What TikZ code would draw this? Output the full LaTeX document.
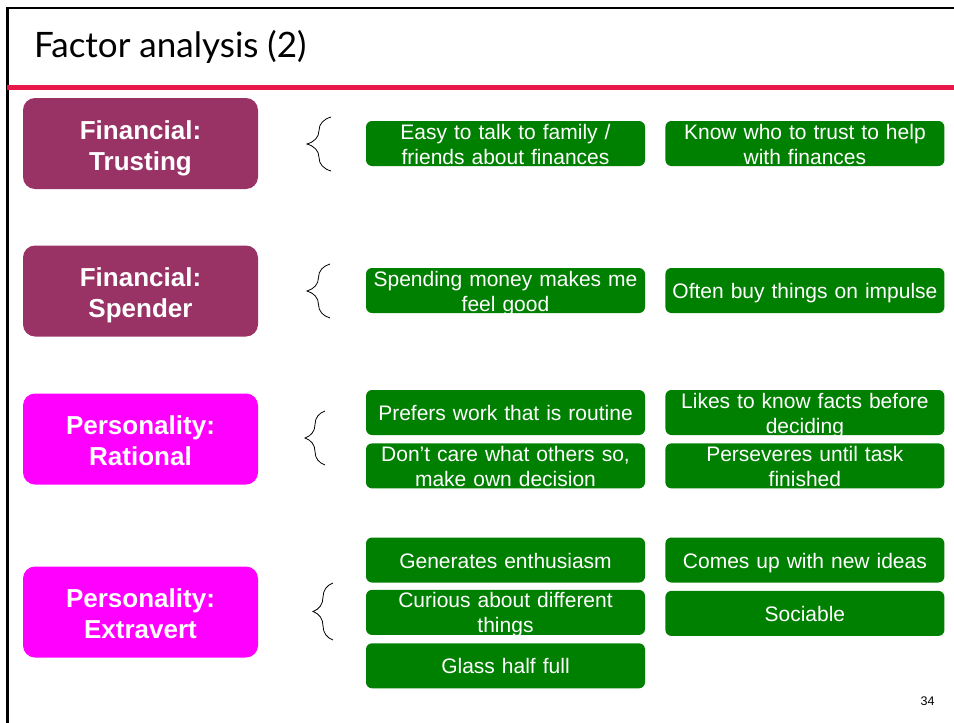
\documentclass[tikz,border=0pt]{standalone}
\usepackage{fontspec}
\setmainfont{Liberation Sans}
\newfontfamily\titlefont{Lato}
\usetikzlibrary{positioning}
\usetikzlibrary{decorations.pathreplacing}
\definecolor{slidered}{RGB}{232,25,74}
\definecolor{plum}{RGB}{153,51,102}
\definecolor{pink}{RGB}{255,0,255}
\definecolor{itemgreen}{RGB}{0,128,0}

\begin{document}
\begin{tikzpicture}[x=1pt,y=-1pt,
    factor/.style={rounded corners=12pt, text width=235pt, minimum height=91pt,
      inner sep=0pt, align=center, text=white,
      font=\fontsize{26}{31}\selectfont\bfseries,
      text height=22pt, text depth=31pt},
    item/.style={fill=itemgreen, rounded corners=6pt, text width=271pt,
      inner xsep=4pt, inner ysep=0pt, minimum height=45pt, align=center,
      text=white, font=\fontsize{21}{25}\selectfont,
      text height=16pt, text depth=0pt},
    twoline/.style={text depth=25pt},
    curly/.style={decorate, decoration={brace, amplitude=#1}, line width=0.8pt},
  ]
  \useasboundingbox (0,0) rectangle (954,723);

  % slide frame
  \draw[line width=2.5pt] (7.5,723) -- (7.5,8) -- (954,8);
  \draw[slidered, line width=5pt] (7,87.5) -- (954,87.5);
  \node[anchor=base west, font=\titlefont\fontsize{35}{42}\selectfont] (title) at (30.5,57) {Factor analysis (2)};

  % factors
  \node[factor, fill=plum] (trusting) at (140.5,143.5) {Financial:\\Trusting};
  \node[factor, fill=plum] (spender) at (140.5,291) {Financial:\\Spender};
  \node[factor, fill=pink] (rational) at (140.5,439) {Personality:\\Rational};
  \node[factor, fill=pink] (extravert) at (140.5,612) {Personality:\\Extravert};

  \draw[curly=24pt] (331,171) -- (331,117);
  \draw[curly=23pt] (330,318) -- (330,264);
  \draw[curly=20pt] (325,465) -- (325,411);
  \draw[curly=20pt] (333,640) -- (333,583);

  % items
  \node[item, twoline] (trust1) at (505.5,143.5) {Easy to talk to family /\\friends about finances};
  \node[item, twoline, right=20pt of trust1] (trust2) {Know who to trust to help\\with finances};

  \node[item, twoline] (spend1) at (505.5,290.5) {Spending money makes me\\feel good};
  \node[item, right=20pt of spend1] (spend2) {Often buy things on impulse};

  \node[item] (rat1) at (505.5,412.5) {Prefers work that is routine};
  \node[item, twoline, right=20pt of rat1] (rat2) {Likes to know facts before\\deciding};
  \node[item, twoline, below=8pt of rat1] (rat3) {Don’t care what others so,\\make own decision};
  \node[item, twoline, below=8pt of rat2] (rat4) {Perseveres until task\\finished};

  \node[item] (extra1) at (505.5,560) {Generates enthusiasm};
  \node[item, twoline, below=7pt of extra1] (extra2) {Curious about different\\things};
  \node[item, below=8pt of extra2] (extra3) {Glass half full};
  \node[item, right=20pt of extra1] (extra4) {Comes up with new ideas};
  \node[item, below=8pt of extra4] (extra5) {Sociable};

  \node[anchor=base east, font=\fontsize{12.5}{15}\selectfont] (page) at (938,705) {34};
\end{tikzpicture}
\end{document}
